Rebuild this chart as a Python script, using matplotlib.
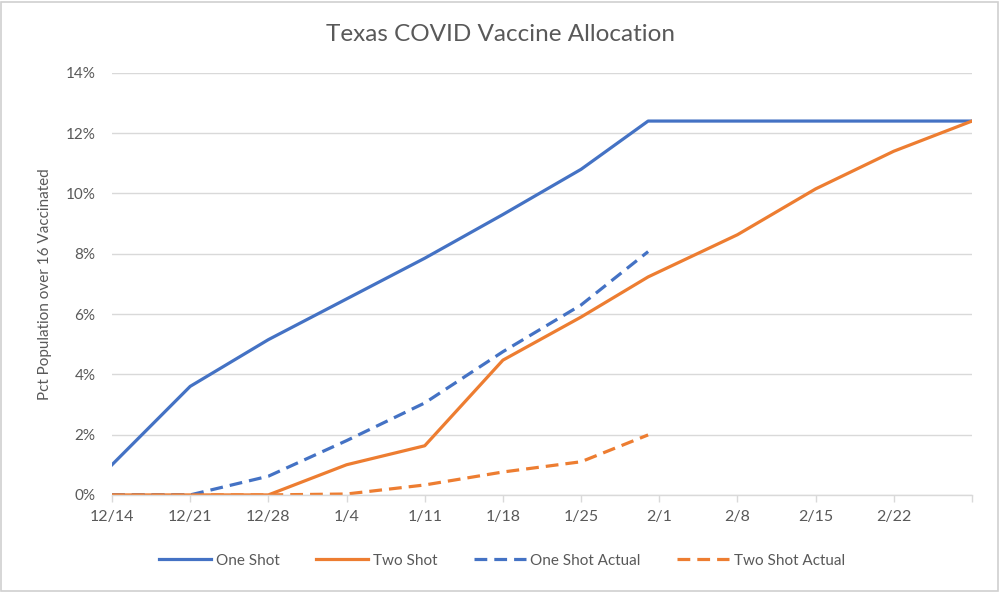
import matplotlib
matplotlib.use("Agg")
import matplotlib.pyplot as plt
from matplotlib.patches import Rectangle
import pandas as pd

plt.rcParams["font.family"] = ["Lato", "DejaVu Sans"]

# data (percent of population over 16)
plan_dates = ["2020-12-14", "2020-12-21", "2020-12-28", "2021-01-04", "2021-01-11",
              "2021-01-18", "2021-01-25", "2021-01-31", "2021-02-08", "2021-02-15",
              "2021-02-22", "2021-03-01"]
one_shot = [1.0, 3.6, 5.15, 6.5, 7.85, 9.3, 10.8, 12.4, 12.4, 12.4, 12.4, 12.4]
two_shot = [0.0, 0.0, 0.0, 1.0, 1.63, 4.47, 5.9, 7.23, 8.63, 10.15, 11.4, 12.4]

actual_dates = ["2020-12-14", "2020-12-21", "2020-12-28", "2021-01-04", "2021-01-11",
                "2021-01-18", "2021-01-25", "2021-01-31"]
one_shot_actual = [0.0, 0.0, 0.62, 1.8, 3.05, 4.75, 6.3, 8.07]
two_shot_actual = [0.0, 0.0, 0.0, 0.03, 0.33, 0.76, 1.1, 1.99]

tick_dates = ["2020-12-14", "2020-12-21", "2020-12-28", "2021-01-04", "2021-01-11",
              "2021-01-18", "2021-01-25", "2021-02-01", "2021-02-08", "2021-02-15",
              "2021-02-22", "2021-03-01"]
tick_labels = ["12/14", "12/21", "12/28", "1/4", "1/11", "1/18", "1/25",
               "2/1", "2/8", "2/15", "2/22", ""]
y_ticks = [0, 2, 4, 6, 8, 10, 12, 14]

BLUE = "#4472C4"
ORANGE = "#ED7D31"
TEXT = "#595959"
GRID = "#D9D9D9"

pd_plan = pd.to_datetime(plan_dates)
pd_act = pd.to_datetime(actual_dates)
pd_ticks = pd.to_datetime(tick_dates)

fig = plt.figure(figsize=(10, 5.92), dpi=100)
ax = fig.add_axes([0.112, 0.164, 0.86, 0.713])

lw = 2.3
dash = (4.0, 2.2)
ax.plot(pd_plan, one_shot, color=BLUE, lw=lw, label="One Shot", solid_joinstyle="round")
ax.plot(pd_plan, two_shot, color=ORANGE, lw=lw, label="Two Shot", solid_joinstyle="round")
ax.plot(pd_act, one_shot_actual, color=BLUE, lw=lw, label="One Shot Actual", dashes=dash)
ax.plot(pd_act, two_shot_actual, color=ORANGE, lw=lw, label="Two Shot Actual", dashes=dash)

ax.set_xlim(pd_ticks[0], pd_ticks[-1])
ax.set_ylim(0, 14)
ax.set_yticks(y_ticks)
ax.set_yticklabels([f"{v}%" for v in y_ticks])
ax.set_xticks(pd_ticks)
ax.set_xticklabels(tick_labels)

for s in ["top", "right", "left"]:
    ax.spines[s].set_visible(False)
ax.spines["bottom"].set_color(GRID)
ax.spines["bottom"].set_linewidth(1.0)
ax.grid(axis="y", color=GRID, lw=1.0)
ax.set_axisbelow(True)
ax.tick_params(axis="y", length=0, pad=12, labelsize=11, labelcolor=TEXT)
ax.tick_params(axis="x", length=5, color=GRID, width=1.0, pad=6, labelsize=11.5, labelcolor=TEXT)

ax.set_ylabel("Pct Population over 16 Vaccinated", fontsize=11, color=TEXT, labelpad=10)
fig.text(0.5, 0.942, "Texas COVID Vaccine Allocation", ha="center", va="center",
         fontsize=17.5, color=TEXT)

fig.legend(loc="center", bbox_to_anchor=(0.502, 0.053), ncol=4, frameon=False,
           fontsize=11, handlelength=3.4, columnspacing=2.4, handletextpad=0.3,
           labelcolor=TEXT)

fig.patches.append(Rectangle((0.001, 0.002), 0.997, 0.995, transform=fig.transFigure,
                             fill=False, edgecolor="#D0D0D0", lw=1.2))

fig.savefig("out.png", dpi=100, facecolor="white")
